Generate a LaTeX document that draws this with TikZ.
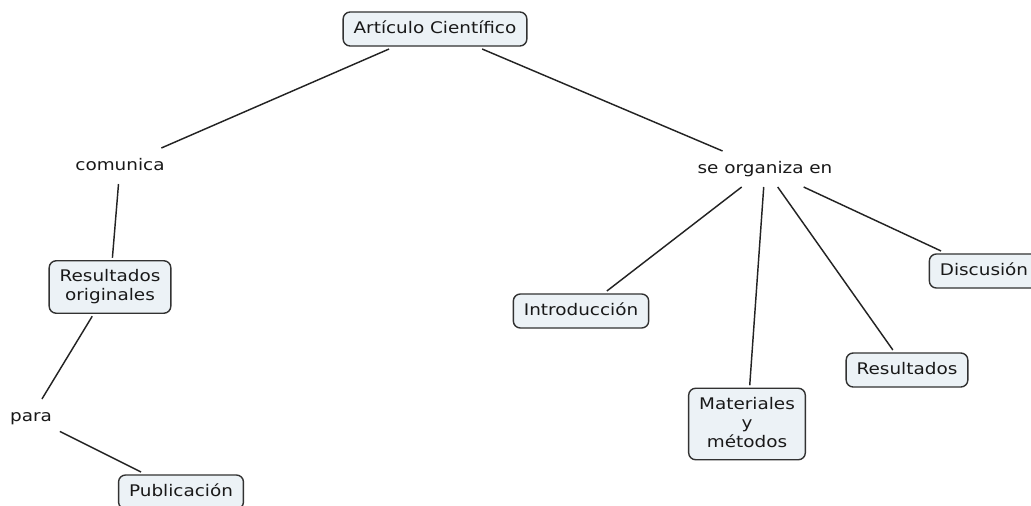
\documentclass[tikz,border=0pt]{standalone}
\usepackage{fontspec}
\setmainfont{DejaVu Sans}[FakeStretch=1.15]
\definecolor{boxfill}{RGB}{236,242,246}
\definecolor{boxline}{RGB}{50,50,50}
\definecolor{conline}{RGB}{35,35,35}
\definecolor{txt}{RGB}{25,25,25}
\begin{document}
\begin{tikzpicture}[x=1pt,y=-1pt,
  every node/.style={font=\fontsize{16}{19}\selectfont, text=txt},
  concept/.style={draw=boxline, line width=1.4pt, fill=boxfill, rounded corners=7pt,
    inner xsep=10.5pt, inner ysep=9pt, outer sep=3pt, align=center},
  single/.style={text height=12pt, text depth=4pt},
  linkw/.style={inner xsep=6pt, inner ysep=8pt, outer sep=2pt, text height=12pt, text depth=4pt},
  conn/.style={draw=conline, line width=1.45pt}]
\useasboundingbox (0,0) rectangle (1031,506);
\fill[white] (0,0) rectangle (1031,506);
\clip (0,0) rectangle (1031,506);
\node[concept,single] (art) at (435,29) {Artículo Científico};
\node[linkw] (com) at (120,166) {comunica};
\node[linkw] (so) at (765,169) {se organiza en};
\node[concept] (ro) at (110,287) {Resultados\\originales};
\node[linkw] (para) at (31,417) {para};
\node[concept,single] (pub) at (181,492) {Publicación};
\node[concept,single] (intro) at (581,311) {Introducción};
\node[concept] (mat) at (747,424) {Materiales\\y\\métodos\vphantom{g}};
\node[concept,single] (res) at (907,370) {Resultados};
\node[concept,single] (disc) at (984,271) {Discusión};
\draw[conn] (art) -- (com);
\draw[conn] (art) -- (so);
\draw[conn] (com) -- (ro);
\draw[conn] (ro) -- (para);
\draw[conn] (para) -- (pub);
\draw[conn] (so) -- (intro);
\draw[conn] (so) -- (mat);
\draw[conn] (so) -- (res);
\draw[conn] (so) -- (disc);
\end{tikzpicture}
\end{document}
